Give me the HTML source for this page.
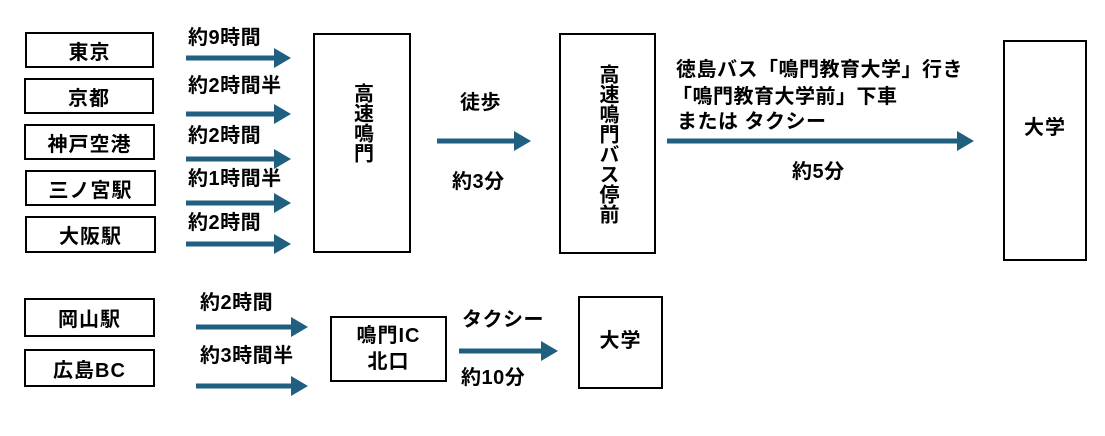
<!DOCTYPE html>
<html><head><meta charset="utf-8"><style>
body{margin:0;width:1105px;height:436px;background:#fff;position:relative;overflow:hidden;font-family:"Liberation Sans","Noto Sans CJK JP",sans-serif;font-weight:bold;color:#000}
.b{position:absolute;border:2px solid #000;box-sizing:border-box;display:flex;align-items:center;justify-content:center;font-size:20px;background:#fff;letter-spacing:1px}
.t{position:absolute;font-size:20px;white-space:nowrap;line-height:1;letter-spacing:0.5px}
.v{writing-mode:vertical-rl;text-orientation:upright;letter-spacing:0px}
svg{position:absolute;left:0;top:0}
</style></head><body>
<svg width="1105" height="436">
<defs><marker id="a" markerWidth="4" markerHeight="4" refX="0" refY="2" orient="auto" markerUnits="strokeWidth"><path d="M0,0L3.4,2L0,4Z" fill="#1f5f80"/></marker></defs>
<g stroke="#1f5f80" stroke-width="5" marker-end="url(#a)">
<line x1="186" y1="58" x2="274" y2="58"/>
<line x1="186" y1="114" x2="274" y2="114"/>
<line x1="186" y1="159" x2="274" y2="159"/>
<line x1="186" y1="203" x2="274" y2="203"/>
<line x1="186" y1="244" x2="274" y2="244"/>
<line x1="437" y1="141" x2="514" y2="141"/>
<line x1="667" y1="141" x2="957" y2="141"/>
<line x1="196" y1="327" x2="291" y2="327"/>
<line x1="196" y1="386" x2="291" y2="386"/>
<line x1="459" y1="351" x2="541" y2="351"/>
</g></svg>
<div class="b" style="left:25px;top:32px;width:129px;height:36px">東京</div>
<div class="b" style="left:24px;top:78px;width:130px;height:36px">京都</div>
<div class="b" style="left:24px;top:124px;width:131px;height:36px">神戸空港</div>
<div class="b" style="left:25px;top:170px;width:131px;height:36px">三ノ宮駅</div>
<div class="b" style="left:25px;top:216px;width:131px;height:37px">大阪駅</div>
<div class="t" style="left:188px;top:28px">約9時間</div>
<div class="t" style="left:188px;top:76px">約2時間半</div>
<div class="t" style="left:188px;top:126px">約2時間</div>
<div class="t" style="left:188px;top:169px">約1時間半</div>
<div class="t" style="left:188px;top:213px">約2時間</div>
<div class="b" style="left:313px;top:33px;width:98px;height:220px"><span class="v" style="margin-top:-40px">高速鳴門</span></div>
<div class="t" style="left:460px;top:93px">徒歩</div>
<div class="t" style="left:452px;top:172px">約3分</div>
<div class="b" style="left:559px;top:33px;width:97px;height:221px"><span class="v">高速鳴門バス停前</span></div>
<div class="t" style="left:676px;top:60px">徳島バス「鳴門教育大学」行き</div>
<div class="t" style="left:672px;top:87px">「鳴門教育大学前」下車</div>
<div class="t" style="left:677px;top:112px">または&nbsp;タクシー</div>
<div class="t" style="left:792px;top:162px">約5分</div>
<div class="b" style="left:1003px;top:40px;width:84px;height:221px"><span style="margin-top:-50px">大学</span></div>
<div class="b" style="left:24px;top:298px;width:131px;height:39px">岡山駅</div>
<div class="b" style="left:24px;top:349px;width:131px;height:38px">広島BC</div>
<div class="t" style="left:200px;top:293px">約2時間</div>
<div class="t" style="left:200px;top:346px">約3時間半</div>
<div class="b" style="left:330px;top:316px;width:117px;height:66px;flex-direction:column;line-height:26px;text-align:center">鳴門IC<br>北口</div>
<div class="t" style="left:462px;top:310px">タクシー</div>
<div class="t" style="left:461px;top:368px">約10分</div>
<div class="b" style="left:578px;top:296px;width:85px;height:93px"><span style="margin-top:-8px">大学</span></div>
</body></html>
